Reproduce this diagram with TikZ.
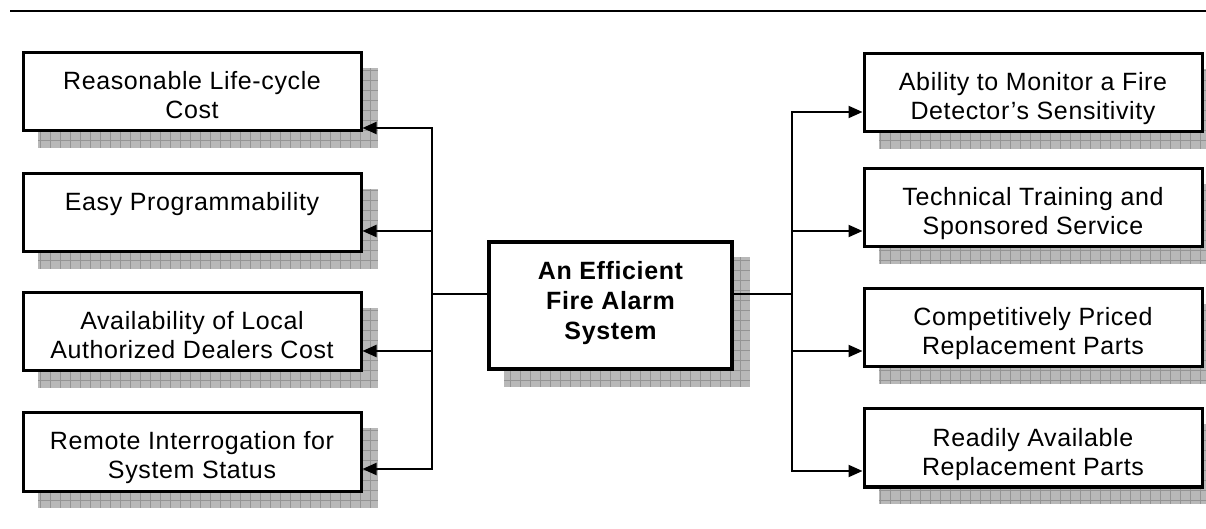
\documentclass[tikz,border=0pt]{standalone}
\usepackage{fontspec}
\setmainfont{Liberation Sans}[LetterSpace=2.5]
\usetikzlibrary{arrows.meta,positioning,backgrounds}

% two-line box text, first baseline on top
\newcommand{\boxlines}[1]{\begin{tabular}[t]{@{}c@{}}#1\end{tabular}}
% hatched drop shadow behind a named box
\newcommand{\dropshade}[1]{%
  \begin{scope}[on background layer]
    \fill[shadefill] ([shift={(8pt,-8pt)}]#1.south west) rectangle ([shift={(8pt,-8pt)}]#1.north east);
    \draw[shadegrid] ([shift={(8pt,-8pt)}]#1.south west) grid ([shift={(8pt,-8pt)}]#1.north east);
    \draw[shadeedge] ([shift={(8pt,-8pt)}]#1.south west) rectangle ([shift={(8pt,-8pt)}]#1.north east);
  \end{scope}}

\begin{document}
\begin{tikzpicture}[
    x=0.5pt, y=-0.5pt,
    goalbox/.style={rectangle, draw=black, fill=white, line width=1.5pt, inner sep=0pt,
                    minimum width=169pt, minimum height=39pt,
                    font=\fontsize{12.5}{14.5}\selectfont, text height=10pt, text depth=12pt},
    hubbox/.style={rectangle, draw=black, fill=white, line width=2pt, inner sep=0pt,
                   minimum width=121.5pt, minimum height=63.5pt,
                   font=\fontsize{12.5}{15}\selectfont\bfseries, text height=10pt, text depth=35.5pt},
    shadefill/.style={fill=black!28},
    shadegrid/.style={draw=black!42, line width=0.4pt, step=5pt},
    shadeedge/.style={draw=white, line width=0.4pt},
    link/.style={draw=black, line width=1pt},
    arrow/.style={link, -{Triangle[length=7pt,width=6pt]}}
  ]
    \useasboundingbox (0,0) rectangle (1206,529);

    % rule on top
    \coordinate (ruleL) at (10,11);
    \coordinate (ruleR) at (1206,11);
    \draw[line width=1.2pt] (ruleL) -- (ruleR);

    % central goal
    \node[hubbox] (hub) at (610.5,305.5) {\boxlines{An Efficient\\Fire Alarm\\System}};

    % left boxes
    \node[goalbox] (l1) at (192,92)    {\boxlines{Reasonable Life-cycle\\Cost}};
    \node[goalbox] (l2) at (192,212.5) {\boxlines{Easy Programmability}};
    \node[goalbox] (l3) at (192,331.5) {\boxlines{Availability of Local\\Authorized Dealers Cost}};
    \node[goalbox] (l4) at (192,452)   {\boxlines{Remote Interrogation for\\System Status}};

    % right boxes
    \node[goalbox] (r1) at (1033,93)    {\boxlines{Ability to Monitor a Fire\\Detector's Sensitivity}};
    \node[goalbox] (r2) at (1033,208)   {\boxlines{Technical Training and\\Sponsored Service}};
    \node[goalbox] (r3) at (1033,327.5) {\boxlines{Competitively Priced\\Replacement Parts}};
    \node[goalbox] (r4) at (1033,448)   {\boxlines{Readily Available\\Replacement Parts}};

    % shadows
    \foreach \b in {hub,l1,l2,l3,l4,r1,r2,r3,r4} {\dropshade{\b}}

    % junctions
    \coordinate (ljoin) at (432,294);
    \coordinate (rjoin) at (792,294);
    \draw[link] ([yshift=5.75pt]hub.west) -- (ljoin);
    \draw[link] ([yshift=5.75pt]hub.east) -- (rjoin);

    % arrows to the left
    \draw[arrow] (ljoin) |- ([yshift=-18pt]l1.east);
    \draw[arrow] (ljoin) |- ([yshift=-9.25pt]l2.east);
    \draw[arrow] (ljoin) |- ([yshift=-9.75pt]l3.east);
    \draw[arrow] (ljoin) |- ([yshift=-8.5pt]l4.east);

    % arrows to the right
    \draw[arrow] (rjoin) |- ([yshift=-9.5pt]r1.west);
    \draw[arrow] (rjoin) |- ([yshift=-11.5pt]r2.west);
    \draw[arrow] (rjoin) |- ([yshift=-11.75pt]r3.west);
    \draw[arrow] (rjoin) |- ([yshift=-11.5pt]r4.west);
  \end{tikzpicture}
\end{document}
